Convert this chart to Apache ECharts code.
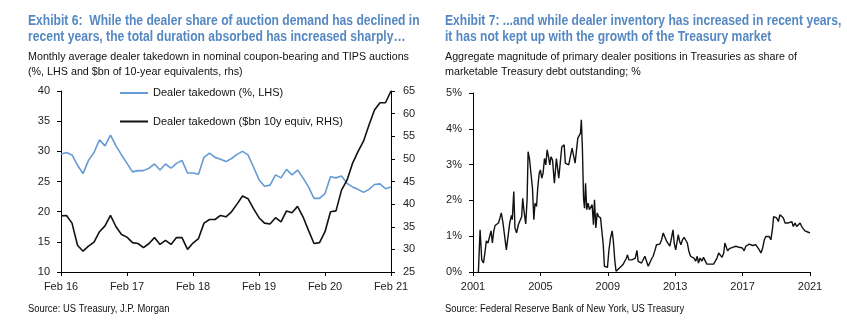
<!DOCTYPE html>
<html>
<head>
<meta charset="utf-8">
<script src="https://cdn.jsdelivr.net/npm/echarts/dist/echarts.min.js"></script>
<style>
  html, body { margin: 0; padding: 0; background: #fff; }
  #chart { width: 847px; height: 327px; }
</style>
</head>
<body>
<div id="chart"></div>
<script>
// ---------- Exhibit 6: dealer takedown at auctions (monthly, Feb 2016 - Feb 2021) ----------
const takedownStart = { year: 2016, month: 1 };   // Feb 2016 (0-based month)
const takedownPct = [
  29.5, 29.8, 29.4, 27.7, 26.3, 28.5, 29.8, 31.9, 30.9, 32.7,
  30.9, 29.4, 28.0, 26.6, 26.8, 26.8, 27.2, 27.9, 26.9, 27.9,
  27.2, 28.0, 28.5, 26.4, 26.4, 26.2, 29.0, 29.7, 29.0, 28.7,
  28.3, 28.8, 29.5, 30.0, 29.4, 27.4, 25.3, 24.2, 24.4, 26.1,
  25.6, 27.0, 26.1, 26.9, 25.6, 24.1, 22.2, 22.2, 23.0, 25.8,
  25.6, 25.9, 24.7, 24.1, 23.7, 23.2, 23.7, 24.5, 24.6, 23.8,
  24.1
];
const takedownBn = [
  37.4, 37.5, 35.8, 30.9, 29.6, 30.7, 31.6, 33.9, 35.2, 37.5,
  35.0, 33.3, 32.7, 31.5, 31.3, 30.4, 31.3, 32.6, 31.1, 32.0,
  31.1, 32.6, 32.6, 30.0, 31.4, 32.4, 35.8, 36.6, 36.6, 37.5,
  37.2, 38.3, 40.0, 41.8, 41.2, 39.0, 37.0, 35.8, 35.6, 37.0,
  36.1, 38.5, 38.1, 39.5, 37.2, 34.2, 31.3, 31.5, 33.9, 38.3,
  38.5, 43.1, 45.3, 49.0, 51.6, 53.9, 57.5, 60.8, 62.4, 62.4,
  65.0
];
const pctName = 'Dealer takedown (%, LHS)';
const bnName = 'Dealer takedown ($bn 10y equiv, RHS)';

// ---------- Exhibit 7: primary dealer positions as share of marketable debt ----------
const inventoryDate = [
  2001.32, 2001.42, 2001.52, 2001.62, 2001.72, 2001.79, 2001.89, 2001.99, 2002.07, 2002.15,
  2002.23, 2002.31, 2002.41, 2002.51, 2002.60, 2002.68, 2002.78, 2002.88, 2002.98, 2003.08,
  2003.18, 2003.28, 2003.33, 2003.42, 2003.49, 2003.59, 2003.69, 2003.79, 2003.89, 2003.95,
  2004.03, 2004.13, 2004.21, 2004.27, 2004.35, 2004.43, 2004.53, 2004.61, 2004.68, 2004.77,
  2004.84, 2004.93, 2005.00, 2005.08, 2005.16, 2005.24, 2005.32, 2005.40, 2005.48, 2005.56,
  2005.63, 2005.72, 2005.83, 2005.95, 2006.01, 2006.09, 2006.19, 2006.27, 2006.35, 2006.41,
  2006.48, 2006.58, 2006.68, 2006.78, 2006.88, 2006.96, 2007.06, 2007.14, 2007.22, 2007.30,
  2007.38, 2007.43, 2007.49, 2007.56, 2007.62, 2007.68, 2007.75, 2007.83, 2007.91, 2007.99,
  2008.07, 2008.15, 2008.21, 2008.29, 2008.37, 2008.45, 2008.57, 2008.64, 2008.73, 2008.80,
  2008.90, 2008.98, 2009.06, 2009.16, 2009.26, 2009.33, 2009.42, 2009.49, 2009.59, 2009.69,
  2009.79, 2009.89, 2009.99, 2010.09, 2010.17, 2010.25, 2010.33, 2010.43, 2010.53, 2010.63,
  2010.73, 2010.80, 2010.90, 2011.00, 2011.10, 2011.20, 2011.30, 2011.40, 2011.50, 2011.60,
  2011.69, 2011.79, 2011.89, 2011.99, 2012.09, 2012.19, 2012.29, 2012.39, 2012.49, 2012.58,
  2012.68, 2012.78, 2012.87, 2012.94, 2013.03, 2013.10, 2013.18, 2013.26, 2013.34, 2013.43,
  2013.53, 2013.63, 2013.72, 2013.81, 2013.91, 2014.01, 2014.11, 2014.21, 2014.31, 2014.38,
  2014.48, 2014.58, 2014.68, 2014.78, 2014.88, 2014.98, 2015.08, 2015.18, 2015.28, 2015.38,
  2015.48, 2015.58, 2015.68, 2015.78, 2015.88, 2015.95, 2016.03, 2016.11, 2016.21, 2016.31,
  2016.41, 2016.50, 2016.60, 2016.70, 2016.80, 2016.90, 2016.99, 2017.09, 2017.19, 2017.29,
  2017.39, 2017.49, 2017.59, 2017.69, 2017.79, 2017.89, 2017.99, 2018.09, 2018.19, 2018.29,
  2018.38, 2018.48, 2018.58, 2018.68, 2018.78, 2018.84, 2018.93, 2019.02, 2019.12, 2019.22,
  2019.32, 2019.42, 2019.52, 2019.62, 2019.72, 2019.82, 2019.92, 2020.01, 2020.11, 2020.21,
  2020.31, 2020.41, 2020.51, 2020.60, 2020.70, 2020.80, 2020.90, 2021.00
];
const inventoryShare = [
  0.00, 1.18, 0.34, 0.25, 0.58, 0.87, 0.81, 0.84, 1.15, 0.81,
  1.13, 1.30, 1.27, 1.37, 1.51, 1.65, 1.37, 1.34, 0.62, 0.58,
  1.37, 1.58, 1.46, 2.25, 1.23, 1.09, 1.32, 1.30, 1.55, 2.06,
  1.69, 1.34, 2.02, 3.36, 3.17, 3.17, 2.34, 1.46, 1.92, 1.83,
  2.34, 2.76, 2.85, 2.62, 2.76, 3.17, 2.99, 3.41, 3.22, 2.99,
  3.22, 3.13, 2.48, 3.17, 2.94, 2.62, 2.67, 3.50, 3.46, 3.55,
  3.04, 3.01, 2.99, 2.94, 3.46, 3.41, 3.04, 3.07, 3.74, 3.78,
  3.88, 4.25, 3.50, 2.06, 1.78, 2.48, 1.74, 1.92, 1.74, 1.69,
  1.88, 1.32, 2.02, 1.23, 1.65, 1.55, 1.51, 1.18, 0.76, 0.16,
  0.13, 0.13, 0.58, 0.95, 1.15, 0.86, 0.30, 0.02, 0.07, 0.11,
  0.16, 0.20, 0.25, 0.37, 0.48, 0.34, 0.37, 0.34, 0.37, 0.39,
  0.60, 0.30, 0.26, 0.25, 0.30, 0.44, 0.30, 0.16, 0.20, 0.37,
  0.44, 0.59, 0.76, 0.81, 0.78, 0.90, 1.09, 1.04, 0.86, 0.84,
  0.72, 0.95, 1.18, 0.81, 0.62, 0.81, 1.04, 0.86, 0.76, 0.90,
  0.97, 0.95, 0.81, 0.58, 0.44, 0.48, 0.39, 0.30, 0.44, 0.25,
  0.39, 0.30, 0.41, 0.39, 0.22, 0.20, 0.22, 0.20, 0.22, 0.20,
  0.39, 0.53, 0.48, 0.41, 0.53, 0.81, 0.86, 0.59, 0.65, 0.67,
  0.69, 0.69, 0.72, 0.76, 0.69, 0.72, 0.67, 0.59, 0.72, 0.76,
  0.78, 0.76, 0.74, 0.69, 0.76, 0.69, 0.62, 0.53, 0.67, 0.90,
  0.99, 1.04, 0.99, 0.90, 1.23, 1.55, 1.55, 1.51, 1.41, 1.60,
  1.62, 1.51, 1.37, 1.41, 1.37, 1.32, 1.41, 1.27, 1.37, 1.27,
  1.30, 1.37, 1.27, 1.21, 1.15, 1.15, 1.11, 1.09
];

// Month labels for the takedown axis ("Feb 16", "Mar 16", ...)
const monthAbbr = ['Jan','Feb','Mar','Apr','May','Jun','Jul','Aug','Sep','Oct','Nov','Dec'];
const takedownMonths = takedownPct.map((_, i) => {
  const m = takedownStart.month + i;
  const y = takedownStart.year + Math.floor(m / 12);
  return monthAbbr[m % 12] + ' ' + String(y).slice(2);
});

const FONT = '"Liberation Sans", Arial, Helvetica, sans-serif';
const TITLE_BLUE = '#5588c2';
const LINE_BLUE = '#659bd3';
const INK = '#111';

function txt(x, y, text, size, opt) {
  opt = opt || {};
  return {
    type: 'text', x: x, y: y, scaleX: opt.sx || 1, silent: true,
    style: {
      text: text, fill: opt.color || '#111',
      fontFamily: FONT, fontSize: size, fontWeight: opt.bold ? 'bold' : 'normal',
      verticalAlign: 'middle', align: 'left'
    }
  };
}

const axisLineStyle = { show: true, lineStyle: { color: '#000', width: 1 } };
const tickStyle = { show: true, length: 4, lineStyle: { color: '#000' } };
const labelStyle = { color: '#222', fontFamily: FONT, fontSize: 11 };

const chart = echarts.init(document.getElementById('chart'), null, { renderer: 'canvas' });

chart.setOption({
  backgroundColor: '#fff',
  animation: false,
  textStyle: { fontFamily: FONT },
  graphic: [
    txt(28, 21.5, 'Exhibit 6:  While the dealer share of auction demand has declined in', 14, { bold: true, color: TITLE_BLUE, sx: 0.865 }),
    txt(28, 37.5, 'recent years, the total duration absorbed has increased sharply\u2026', 14, { bold: true, color: TITLE_BLUE, sx: 0.865 }),
    txt(28, 56.5, 'Monthly average dealer takedown in nominal coupon-bearing and TIPS auctions', 11, { sx: 0.975 }),
    txt(28, 71.5, '(%, LHS and $bn of 10-year equivalents, rhs)', 11, { sx: 0.975 }),
    txt(28, 309, 'Source: US Treasury, J.P. Morgan', 10, { sx: 0.94 }),

    txt(445, 21.5, 'Exhibit 7: ...and while dealer inventory has increased in recent years,', 14, { bold: true, color: TITLE_BLUE, sx: 0.865 }),
    txt(445, 37.5, 'it has not kept up with the growth of the Treasury market', 14, { bold: true, color: TITLE_BLUE, sx: 0.865 }),
    txt(445, 56.5, 'Aggregate magnitude of primary dealer positions in Treasuries as share of', 11, { sx: 0.975 }),
    txt(445, 71.5, 'marketable Treasury debt outstanding; %', 11, { sx: 0.975 }),
    txt(445, 309, 'Source: Federal Reserve Bank of New York, US Treasury', 10, { sx: 0.94 })
  ],
  legend: {
    data: [pctName, bnName],
    orient: 'vertical',
    left: 120, top: 86,
    padding: 0,
    itemWidth: 28, itemHeight: 2, itemGap: 14.5,
    icon: 'rect',
    textStyle: { color: '#111', fontFamily: FONT, fontSize: 11, lineHeight: 14 }
  },
  grid: [
    { left: 61, top: 91, width: 330, height: 181, containLabel: false },
    { left: 473, top: 93, width: 337, height: 179, containLabel: false }
  ],
  xAxis: [
    {
      gridIndex: 0, type: 'category', data: takedownMonths, boundaryGap: false,
      axisLine: axisLineStyle,
      axisTick: Object.assign({}, tickStyle, { interval: 11, alignWithLabel: true }),
      axisLabel: Object.assign({}, labelStyle, { interval: 11, margin: 9 }),
      splitLine: { show: false }
    },
    {
      gridIndex: 1, type: 'value', min: 2001, max: 2021, interval: 4,
      axisLine: axisLineStyle, axisTick: tickStyle,
      axisLabel: Object.assign({}, labelStyle, { margin: 9, formatter: v => String(v) }),
      splitLine: { show: false }
    }
  ],
  yAxis: [
    {
      gridIndex: 0, type: 'value', min: 10, max: 40, interval: 5, position: 'left',
      axisLine: axisLineStyle, axisTick: tickStyle,
      axisLabel: Object.assign({}, labelStyle, { margin: 11 }),
      splitLine: { show: false }
    },
    {
      gridIndex: 0, type: 'value', min: 25, max: 65, interval: 5, position: 'right',
      axisLine: axisLineStyle, axisTick: tickStyle,
      axisLabel: Object.assign({}, labelStyle, { margin: 12 }),
      splitLine: { show: false }
    },
    {
      gridIndex: 1, type: 'value', min: 0, max: 5, interval: 1,
      axisLine: axisLineStyle, axisTick: tickStyle,
      axisLabel: Object.assign({}, labelStyle, { margin: 11, formatter: '{value}%' }),
      splitLine: { show: false }
    }
  ],
  series: [
    {
      name: pctName, type: 'line', xAxisIndex: 0, yAxisIndex: 0,
      data: takedownPct, showSymbol: false, symbol: 'none',
      lineStyle: { color: LINE_BLUE, width: 1.6 }, itemStyle: { color: LINE_BLUE }
    },
    {
      name: bnName, type: 'line', xAxisIndex: 0, yAxisIndex: 1,
      data: takedownBn, showSymbol: false, symbol: 'none',
      lineStyle: { color: INK, width: 1.6 }, itemStyle: { color: INK }
    },
    {
      name: 'Dealer positions (% of marketable debt)', type: 'line', xAxisIndex: 1, yAxisIndex: 2,
      data: inventoryDate.map((d, i) => [d, inventoryShare[i]]),
      showSymbol: false, symbol: 'none',
      lineStyle: { color: INK, width: 1.4 }, itemStyle: { color: INK }
    }
  ]
});
</script>
</body>
</html>
